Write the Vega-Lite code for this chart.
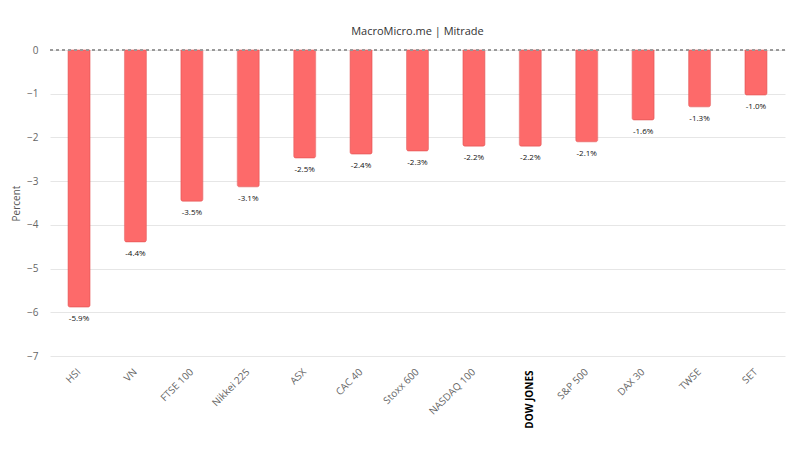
{
  "$schema": "https://vega.github.io/schema/vega-lite/v6.json",
  "autosize": "none",
  "width": 735,
  "height": 306,
  "padding": {"left": 50, "top": 50, "right": 15, "bottom": 94},
  "background": "white",
  "title": {"text": "MacroMicro.me | Mitrade", "font": "Open Sans", "fontSize": 11, "fontWeight": "normal", "color": "#333", "offset": 8, "anchor": "middle"},
  "data": {"values": [
    {"index": "HSI", "value": -5.88, "label": "-5.9%"},
    {"index": "VN", "value": -4.39, "label": "-4.4%"},
    {"index": "FTSE 100", "value": -3.46, "label": "-3.5%"},
    {"index": "Nikkei 225", "value": -3.13, "label": "-3.1%"},
    {"index": "ASX", "value": -2.47, "label": "-2.5%"},
    {"index": "CAC 40", "value": -2.38, "label": "-2.4%"},
    {"index": "Stoxx 600", "value": -2.31, "label": "-2.3%"},
    {"index": "NASDAQ 100", "value": -2.2, "label": "-2.2%"},
    {"index": "DOW JONES", "value": -2.2, "label": "-2.2%"},
    {"index": "S&P 500", "value": -2.1, "label": "-2.1%"},
    {"index": "DAX 30", "value": -1.6, "label": "-1.6%"},
    {"index": "TWSE", "value": -1.3, "label": "-1.3%"},
    {"index": "SET", "value": -1.03, "label": "-1.0%"}
  ]},
  "config": {"view": {"stroke": null}, "font": "Open Sans"},
  "encoding": {
    "x": {"field": "index", "type": "nominal", "sort": null,
      "scale": {"paddingInner": 0.61, "paddingOuter": 0.32},
      "axis": {"title": null, "domain": false, "ticks": false, "labelPadding": 14,
        "labelAngle": {"expr": "datum.value == 'DOW JONES' ? -90 : -45"},
        "labelAlign": "right", "labelBaseline": "middle",
        "labelFontSize": 10,
        "labelColor": {"condition": {"test": "datum.value == 'DOW JONES'", "value": "#000000"}, "value": "#666666"},
        "labelFontWeight": {"condition": {"test": "datum.value == 'DOW JONES'", "value": "bold"}, "value": "normal"}}},
    "y": {"field": "value", "type": "quantitative",
      "scale": {"domain": [-7, 0], "nice": false},
      "axis": {"title": "Percent", "titleFontSize": 10, "titleFontWeight": "normal", "titleColor": "#555", "titlePadding": 5,
        "values": [-7, -6, -5, -4, -3, -2, -1, 0], "domain": false, "ticks": false, "labelPadding": 12,
        "labelFontSize": 10, "labelColor": "#666", "gridColor": "#e6e6e6", "format": "d"}}
  },
  "layer": [
    {"mark": {"type": "bar", "color": "#fd6a6a", "stroke": "#e85a5a", "strokeWidth": 0.6, "cornerRadiusBottomLeft": 2, "cornerRadiusBottomRight": 2}},
    {"mark": {"type": "text", "baseline": "top", "dy": 8, "fontSize": 8, "color": "#111"},
      "encoding": {"text": {"field": "label"}}},
    {"mark": {"type": "rule", "color": "#999", "strokeDash": [3, 3], "strokeWidth": 0.8},
      "encoding": {"x": null, "y": {"datum": 0}}}
  ]
}
